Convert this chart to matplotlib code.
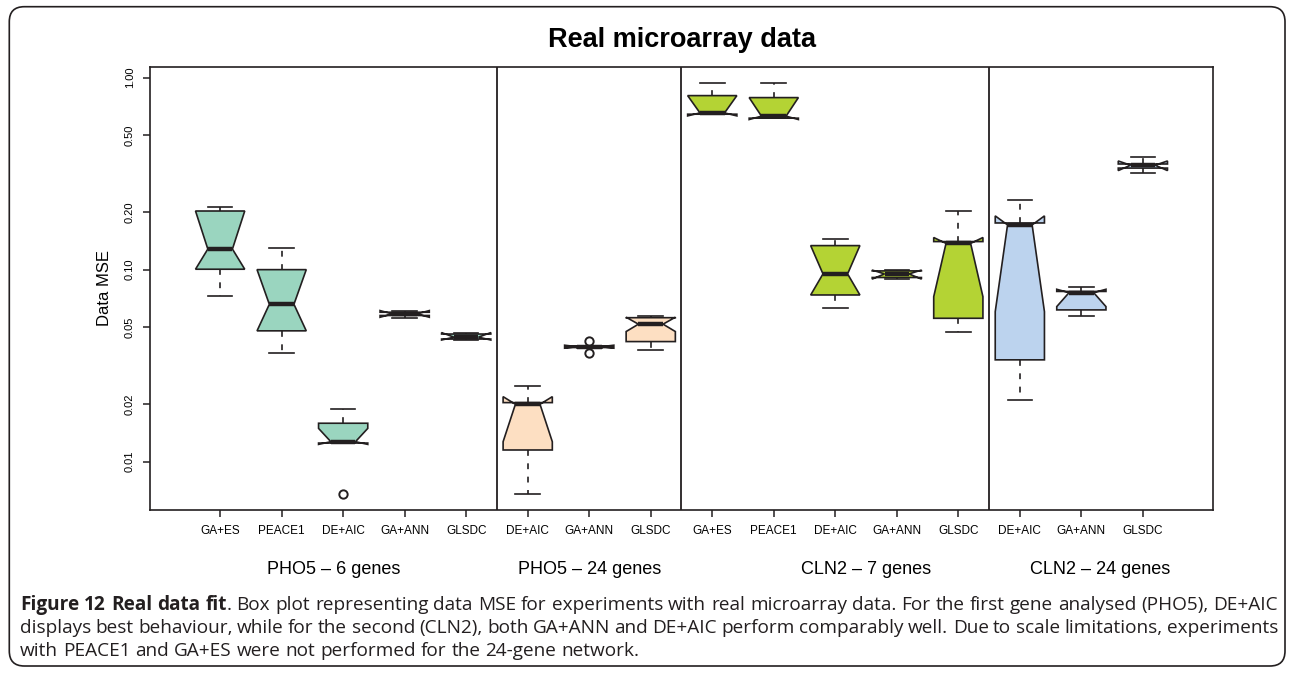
import matplotlib
matplotlib.use("Agg")
import matplotlib.pyplot as plt
import matplotlib.transforms as mtransforms
from matplotlib.patches import FancyBboxPatch
from matplotlib.ticker import NullLocator

plt.rcParams['font.family'] = ['Liberation Sans', 'DejaVu Sans']

# box labels, groups and colours
methods = ["GA+ES", "PEACE1", "DE+AIC", "GA+ANN", "GLSDC",
           "DE+AIC", "GA+ANN", "GLSDC",
           "GA+ES", "PEACE1", "DE+AIC", "GA+ANN", "GLSDC",
           "DE+AIC", "GA+ANN", "GLSDC"]
groups = ["PHO5 – 6 genes", "PHO5 – 24 genes", "CLN2 – 7 genes", "CLN2 – 24 genes"]
group_sizes = [5, 3, 5, 3]
group_label_pos = [2.85, 7.0, 11.5, 15.3]
group_colors = ["#9AD5BF", "#FDDFC2", "#B4D334", "#BCD3EE"]

# box statistics (data MSE)
whislo = [0.073, 0.037, 0.0125, 0.0557, 0.0432,
          0.0068, 0.0392, 0.0382,
          0.645, 0.615, 0.0629, 0.0895, 0.0475,
          0.021, 0.0574, 0.320]
q1 = [0.1005, 0.048, 0.0125, 0.0577, 0.0435,
      0.0115, 0.0393, 0.0422,
      0.645, 0.615, 0.0738, 0.0910, 0.0558,
      0.0339, 0.0617, 0.338]
med = [0.128, 0.066, 0.0127, 0.0588, 0.0445,
       0.0199, 0.0397, 0.052,
       0.655, 0.630, 0.095, 0.095, 0.137,
       0.171, 0.0759, 0.350]
q3 = [0.202, 0.100, 0.01585, 0.0600, 0.0462,
      0.0203, 0.0401, 0.0562,
      0.806, 0.787, 0.1334, 0.0985, 0.140,
      0.175, 0.0770, 0.355]
whishi = [0.213, 0.129, 0.0188, 0.0610, 0.0468,
          0.0248, 0.0402, 0.0575,
          0.942, 0.942, 0.1445, 0.0995, 0.203,
          0.231, 0.081, 0.388]
cilo = [0.1005, 0.048, 0.0123, 0.0565, 0.0430,
        0.0127, 0.0390, 0.0476,
        0.632, 0.605, 0.0738, 0.0893, 0.0723,
        0.0604, 0.0642, 0.328]
cihi = [0.202, 0.100, 0.0149, 0.0612, 0.0470,
        0.0218, 0.0404, 0.0565,
        0.806, 0.787, 0.1334, 0.0995, 0.147,
        0.1905, 0.0790, 0.368]
fliers = [[], [], [0.0068], [], [],
          [], [0.0425, 0.0370], [],
          [], [], [], [], [],
          [], [], []]

ytick_vals = [0.01, 0.02, 0.05, 0.10, 0.20, 0.50, 1.00]
ytick_labels = ["0.01", "0.02", "0.05", "0.10", "0.20", "0.50", "1.00"]

caption_lines = [
    "**Figure** **12** **Real** **data** **fit**. Box plot representing data MSE for experiments with real microarray data. For the first gene analysed (PHO5), DE+AIC",
    "displays best behaviour, while for the second (CLN2), both GA+ANN and DE+AIC perform comparably well. Due to scale limitations, experiments",
    "with PEACE1 and GA+ES were not performed for the 24-gene network.",
]

W, H = 1290, 674
fig = plt.figure(figsize=(W / 100, H / 100), dpi=100)

# rounded frame round the whole figure
frame = FancyBboxPatch((0.093, 0.08), 12.757, 6.593,
                       boxstyle="round,pad=0,rounding_size=0.15",
                       transform=fig.dpi_scale_trans, fill=False,
                       edgecolor="#231F20", linewidth=1.2)
fig.patches.append(frame)

ax = fig.add_axes([150 / W, 1 - 510 / H, 1063 / W, (510 - 66.7) / H])

stats = []
for i in range(len(methods)):
    stats.append(dict(med=med[i], q1=q1[i], q3=q3[i], whislo=whislo[i],
                      whishi=whishi[i], cilo=cilo[i], cihi=cihi[i],
                      fliers=fliers[i], label=methods[i]))
positions = list(range(1, len(methods) + 1))

colors = []
for c, n in zip(group_colors, group_sizes):
    colors += [c] * n

edge = "#231F20"
bp = ax.bxp(stats, positions=positions, widths=0.8, capwidths=0.4,
            shownotches=True, patch_artist=True,
            boxprops=dict(edgecolor=edge, linewidth=1.2),
            whiskerprops=dict(color=edge, linewidth=1.2, linestyle=(0, (3.5, 4.5))),
            capprops=dict(color=edge, linewidth=1.2),
            medianprops=dict(color=edge, linewidth=3.2, solid_capstyle='butt'),
            flierprops=dict(marker='o', markerfacecolor='none',
                            markeredgecolor=edge, markersize=6, markeredgewidth=1.4))
for patch, c in zip(bp['boxes'], colors):
    patch.set_facecolor(c)

# separators between the four experiments
s = 0
for n in group_sizes[:-1]:
    s += n
    ax.axvline(s + 0.5, color=edge, linewidth=1.3)

ax.set_yscale('log')
ax.set_ylim(0.0056, 1.14)
ax.set_xlim(-0.14, 17.14)
ax.yaxis.set_minor_locator(NullLocator())
ax.set_yticks(ytick_vals, ytick_labels, rotation=90, va='center', fontsize=8)
ax.set_xticks(positions, methods, fontsize=8.5)
ax.tick_params(direction='out', length=5, width=1.1, color=edge, pad=6)
for sp in ax.spines.values():
    sp.set_linewidth(1.2)
    sp.set_color(edge)

ax.set_ylabel("Data MSE", fontsize=12, labelpad=9)
fig.text(681.5 / W, 1 - 40 / H, "Real microarray data", ha='center', va='center',
         fontsize=19.5, fontweight='bold')

grp_tr = mtransforms.blended_transform_factory(ax.transData, fig.transFigure)
for lab, x in zip(groups, group_label_pos):
    ax.text(x, 1 - 569 / H, lab, transform=grp_tr, ha='center', va='center',
            fontsize=13)

# caption, justified like the journal layout
renderer = fig.canvas.get_renderer()
x_left, x_right = 20, 1278
cap_base = [610, 633, 656]


def parse(line):
    words = []
    for w in line.split(' '):
        parts = w.split('**')
        words.append([(p, k % 2 == 1) for k, p in enumerate(parts) if p])
    return words


def measure(txt, bold, fs):
    t = fig.text(0, 0, txt, fontsize=fs, family='Open Sans',
                 fontweight='bold' if bold else 'normal')
    w = t.get_window_extent(renderer).width
    t.remove()
    return w


# pick the size that lets the first line fill the column with normal spaces
base = 11
first = parse(caption_lines[0])
nat = sum(measure(s_, b, base) for wd in first for s_, b in wd)
space = base * 1.389 * 0.26
cap_fs = base * (x_right - x_left) / (nat + space * (len(first) - 1))


def caption_line(line, ypix, justify):
    words = []
    for segs in parse(line):
        arts = []
        width = 0
        for txt, bold in segs:
            t = fig.text(0, 1 - ypix / H, txt, fontsize=cap_fs, family='Open Sans',
                         fontweight='bold' if bold else 'normal', va='baseline',
                         color='#231F20')
            wpx = t.get_window_extent(renderer).width
            arts.append((t, wpx))
            width += wpx
        words.append((arts, width))
    total = sum(w for _, w in words)
    if justify:
        gap = (x_right - x_left - total) / (len(words) - 1)
    else:
        gap = cap_fs * 1.389 * 0.26
    x = x_left
    for arts, width in words:
        xx = x
        for t, wpx in arts:
            t.set_x(xx / W)
            xx += wpx
        x += width + gap


for i, line in enumerate(caption_lines):
    caption_line(line, cap_base[i], i < len(caption_lines) - 1)

fig.savefig("out.png", dpi=100)
